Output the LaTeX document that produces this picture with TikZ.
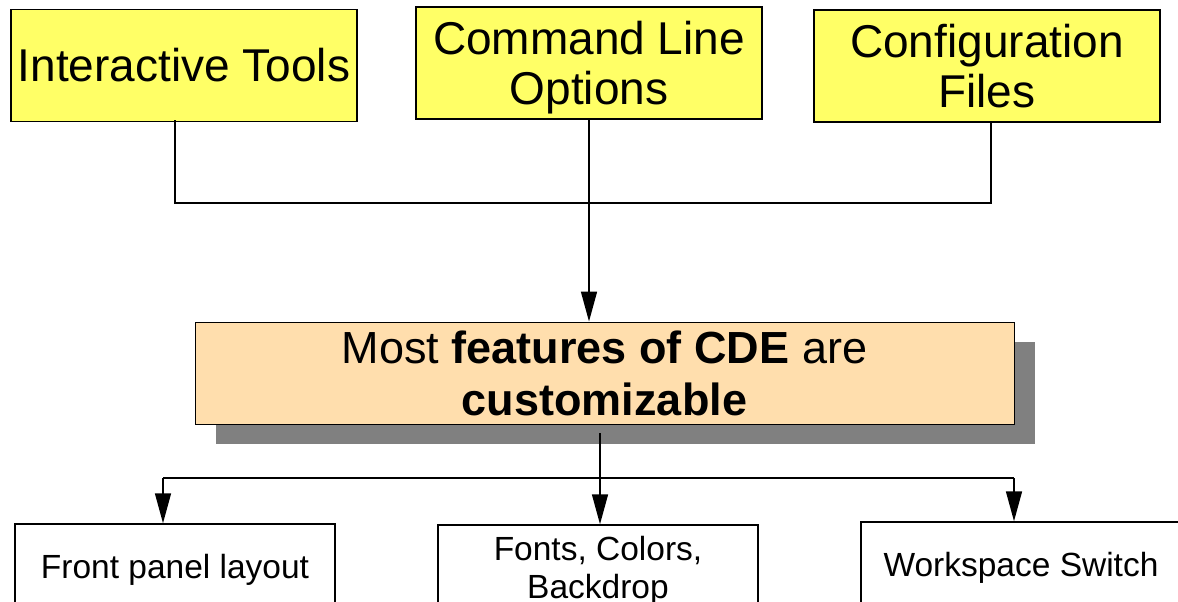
\documentclass[tikz,border=0pt]{standalone}
\usepackage{fontspec}
\setmainfont{Liberation Sans}
\usetikzlibrary{arrows.meta,shadows}
\definecolor{srcyellow}{HTML}{FFFF66}
\definecolor{featpeach}{HTML}{FFDEAD}
\definecolor{shadowgray}{HTML}{808080}

\begin{document}
\begin{tikzpicture}[x=1pt, y=-1pt,
  srcbox/.style={draw, line width=1.5pt, fill=srcyellow, minimum width=346pt, minimum height=112pt, inner sep=0pt, align=center, font=\fontsize{46}{50}\selectfont},
  featbox/.style={draw, line width=1pt, fill=featpeach, minimum width=819pt, minimum height=102pt, inner sep=0pt, align=center, font=\fontsize{45}{52}\selectfont,
    drop shadow={shadow xshift=21pt, shadow yshift=-20pt, fill=shadowgray, opacity=1}},
  leafbox/.style={draw, line width=1.5pt, fill=white, minimum width=320pt, minimum height=84pt, inner sep=0pt, text depth=0pt, align=center, font=\fontsize{33.5}{38}\selectfont},
  wire/.style={line width=1.6pt},
  arrowline/.style={wire, -{Triangle[length=30pt,width=16pt]}}]
\clip (0,0) rectangle (1178,602);
% where settings come from
\node[srcbox] (tools) at (184,65.5) {Interactive Tools};
\node[srcbox, text depth=0pt] (cmdline) at (589,63) {Command Line\\Options};
\node[srcbox] (config) at (987,66) {Configuration\\Files};
% central statement
\node[featbox] (feat) at (604.5,373) {Most \textbf{features of CDE} are\\\textbf{customizable}};
% what can be changed (boxes run off the page)
\node[leafbox] (panel) at (175,566) {Front panel layout};
\node[leafbox] (fonts) at (598,567) {Fonts, Colors,\\Backdrop};
\node[leafbox] (wspace) at (1021,564) {Workspace Switch};
% collecting bus
\coordinate (busL) at (175,203);
\coordinate (busR) at (991,203);
\draw[wire] ([xshift=-9pt,yshift=2pt]tools.south) -- (busL) -- (busR) -- ([xshift=4pt,yshift=2pt]config.south);
\draw[arrowline] (cmdline.south) -- (cmdline.south |- feat.north);
% fan out
\coordinate (splitTop) at (600,433);
\coordinate (split) at (600,478);
\coordinate (forkL) at (163,478);
\coordinate (forkR) at (1014,478);
\draw[wire] (splitTop) -- (split);
\draw[wire] (forkL) -- (forkR);
\foreach \s/\t in {forkL/panel, split/fonts, forkR/wspace}
  \draw[arrowline] (\s) -- (\s |- \t.north);
\end{tikzpicture}
\end{document}
